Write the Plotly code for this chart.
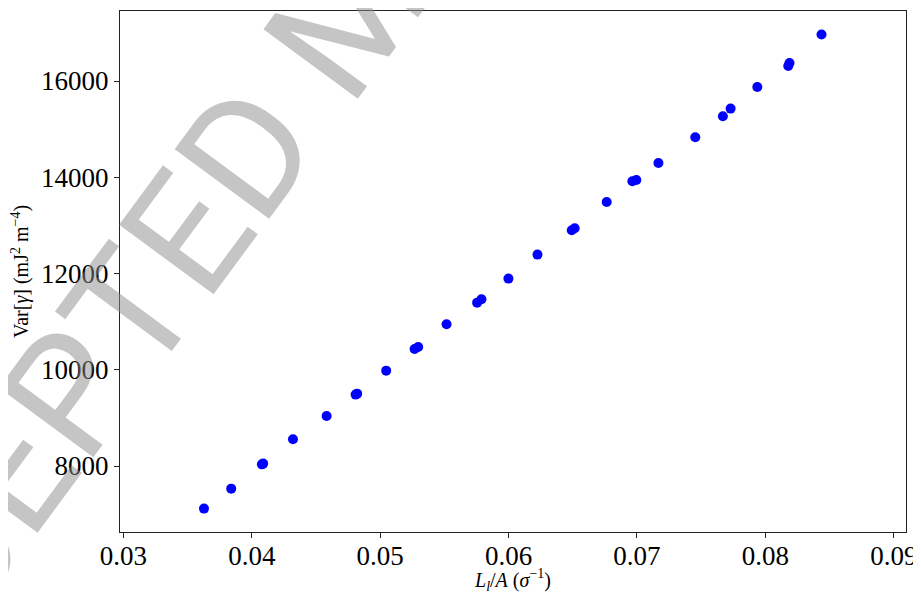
import plotly.graph_objects as go

# Data
x_vals = [0.03628, 0.03840, 0.04079, 0.04089, 0.04321, 0.04583, 0.04809, 0.04821,
          0.05047, 0.05268, 0.05296, 0.05517, 0.05755, 0.05789, 0.05999, 0.06225,
          0.06492, 0.06515, 0.06764, 0.06964, 0.06995, 0.07167, 0.07454, 0.07669,
          0.07729, 0.07937, 0.08178, 0.08188, 0.08437]
y_vals = [7115, 7530, 8035, 8050, 8555, 9039, 9484, 9504,
          9982, 10431, 10473, 10945, 11395, 11464, 11894, 12393,
          12898, 12939, 13486, 13916, 13943, 14297, 14830, 15267,
          15427, 15876, 16312, 16374, 16965]

x_ticks = [0.03, 0.04, 0.05, 0.06, 0.07, 0.08, 0.09]
x_tick_text = ["0.03", "0.04", "0.05", "0.06", "0.07", "0.08", "0.09"]
y_ticks = [8000, 10000, 12000, 14000, 16000]
y_tick_text = ["8000", "10000", "12000", "14000", "16000"]

x_range = [0.02974, 0.09095]
y_range = [6629, 17455]

serif = "Liberation Serif, DejaVu Serif, serif"

fig = go.Figure()
fig.add_trace(go.Scatter(
    x=x_vals, y=y_vals, mode="markers",
    marker=dict(color="#0000ff", size=10, line=dict(width=0)),
    showlegend=False,
))

# page body has an 8px margin, so the figure is sized to fit inside the window
fig.update_layout(
    width=913, height=586,
    margin=dict(l=112, r=15, t=3, b=62),
    paper_bgcolor="white", plot_bgcolor="white",
    font=dict(family=serif, color="black"),
)

fig.update_xaxes(
    range=x_range, tickvals=x_ticks, ticktext=x_tick_text,
    showgrid=False, zeroline=False, automargin=False,
    showline=True, linecolor="#222", linewidth=1.3, mirror=True,
    ticks="outside", ticklen=5, tickwidth=1, tickcolor="#222",
    tickfont=dict(size=27, family=serif), ticklabelstandoff=-6,
    title=dict(text="<i>L<sub>l</sub></i>/<i>A</i> (<i>σ</i><sup>−1</sup>)",
               font=dict(size=20, family=serif), standoff=6),
)
fig.update_yaxes(
    range=y_range, tickvals=y_ticks, ticktext=y_tick_text,
    showgrid=False, zeroline=False, automargin=False,
    showline=True, linecolor="#222", linewidth=1.3, mirror=True,
    ticks="outside", ticklen=5, tickwidth=1, tickcolor="#222",
    tickfont=dict(size=27, family=serif),
    title=dict(text="Var[<i>γ</i>] (mJ<sup>2</sup> m<sup>−4</sup>)",
               font=dict(size=20, family=serif), standoff=10),
)

# Watermark
fig.add_annotation(
    text="ACCEPTED MANUSCRIPT",
    xref="paper", yref="paper", x=0.299, y=1.006,
    xanchor="center", yanchor="middle",
    textangle=-53.6, showarrow=False,
    font=dict(size=165, family="Roboto, Lato, Liberation Sans, sans-serif",
              weight=400, color="rgba(140,140,140,0.5)"),
)

fig.write_html("out.html")
